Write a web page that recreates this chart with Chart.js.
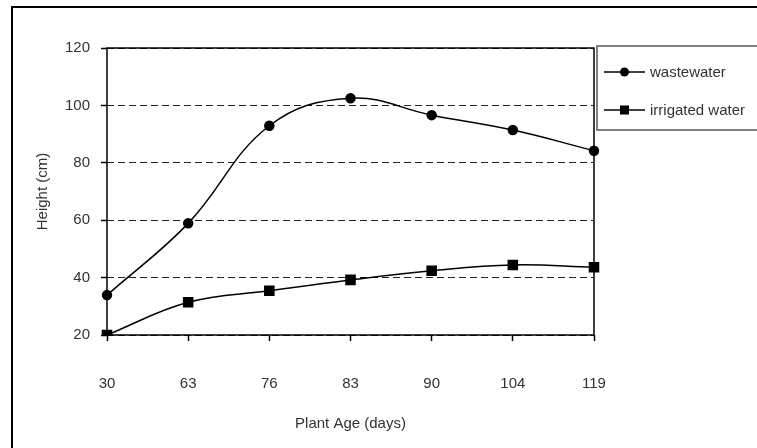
<!DOCTYPE html>
<html>
<head>
<meta charset="utf-8">
<script src="https://cdn.jsdelivr.net/npm/chart.js@4"></script>
<style>
  html, body { margin: 0; padding: 0; background: #fff; }
  #wrap { width: 757px; height: 448px; position: relative; }
</style>
</head>
<body>
<div id="wrap"><canvas id="lineChart" width="757" height="448"></canvas></div>
<script>
// plant age categories (days)
const ages = ["30", "63", "76", "83", "90", "104", "119"];
// plant height (cm)
const wastewater = [33.9, 58.9, 92.9, 102.5, 96.6, 91.4, 84.2];
const irrigatedWater = [20.0, 31.4, 35.4, 39.2, 42.4, 44.4, 43.6];
const yTicks = [20, 40, 60, 80, 100, 120];

const FONT = "'Liberation Sans', Arial, sans-serif";
const TEXT = "#333";

// frame round the plot, outer border, and the boxed legend
const decor = {
    id: "decor",
    beforeDatasetsDraw(chart) {
        const { ctx, chartArea: a } = chart;
        ctx.save();
        ctx.strokeStyle = "#000";
        ctx.lineWidth = 1.5;
        ctx.strokeRect(a.left, a.top, a.right - a.left, a.bottom - a.top);
        ctx.restore();
    },
    afterDraw(chart) {
        const ctx = chart.ctx;
        ctx.save();
        // outer chart border
        ctx.strokeStyle = "#000";
        ctx.lineWidth = 2;
        ctx.strokeRect(12, 7, 800, 500);

        // legend box
        ctx.strokeStyle = "#808080";
        ctx.lineWidth = 2;
        ctx.fillStyle = "#fff";
        ctx.fillRect(597, 46, 200, 84);
        ctx.strokeRect(597, 46, 200, 84);

        const rows = [72, 110];
        chart.data.datasets.forEach((ds, i) => {
            const y = rows[i];
            ctx.strokeStyle = "#000";
            ctx.lineWidth = 1.5;
            ctx.beginPath();
            ctx.moveTo(604, y);
            ctx.lineTo(645, y);
            ctx.stroke();
            ctx.fillStyle = "#000";
            if (ds.pointStyle === "rect") {
                ctx.fillRect(620, y - 4.5, 9, 9);
            } else {
                ctx.beginPath();
                ctx.arc(624.5, y, 4.5, 0, Math.PI * 2);
                ctx.fill();
            }
            ctx.fillStyle = TEXT;
            ctx.font = "15px " + FONT;
            ctx.textBaseline = "middle";
            ctx.fillText(ds.label, 650, y + 1);
        });
        ctx.restore();
    }
};

const ctx = document.getElementById("lineChart").getContext("2d");
new Chart(ctx, {
    type: "line",
    data: {
        labels: ages,
        datasets: [
            {
                label: "wastewater",
                data: wastewater,
                borderColor: "#000",
                backgroundColor: "#000",
                borderWidth: 1.5,
                pointStyle: "circle",
                pointRadius: 4.5,
                tension: 0.4,
                fill: false
            },
            {
                label: "irrigated water",
                data: irrigatedWater,
                borderColor: "#000",
                backgroundColor: "#000",
                borderWidth: 1.5,
                pointStyle: "rect",
                pointRadius: 6.4,
                tension: 0.4,
                fill: false
            }
        ]
    },
    options: {
        responsive: false,
        animation: false,
        layout: { padding: { top: 48, right: 163, left: 0, bottom: 0 } },
        plugins: {
            legend: { display: false },
            tooltip: { enabled: false }
        },
        scales: {
            x: {
                type: "category",
                offset: false,
                afterFit: s => { s.height = 113; },
                grid: {
                    drawOnChartArea: false,
                    drawTicks: true,
                    tickLength: 6,
                    tickColor: "#000",
                    tickWidth: 1.5
                },
                border: { display: false },
                ticks: {
                    color: TEXT,
                    font: { family: FONT, size: 15 },
                    padding: 34,
                    maxRotation: 0
                },
                title: {
                    display: true,
                    text: "Plant Age (days)",
                    color: TEXT,
                    font: { family: FONT, size: 15 },
                    padding: { top: 0, bottom: 15 }
                }
            },
            y: {
                min: 20,
                max: 120,
                afterFit: s => { s.width = 107; },
                afterBuildTicks: s => { s.ticks = yTicks.map(v => ({ value: v })); },
                grid: {
                    color: "#222",
                    lineWidth: 1,
                    drawTicks: true,
                    tickLength: 6,
                    tickColor: "#000",
                    tickWidth: 1.5,
                    tickBorderDash: []
                },
                border: { display: false, dash: [7, 4] },
                ticks: {
                    color: TEXT,
                    font: { family: FONT, size: 15 },
                    padding: 11
                },
                title: {
                    display: true,
                    text: "Height (cm)",
                    color: TEXT,
                    font: { family: FONT, size: 15 },
                    padding: { top: 34, bottom: 0 }
                }
            }
        }
    },
    plugins: [decor]
});
</script>
</body>
</html>
